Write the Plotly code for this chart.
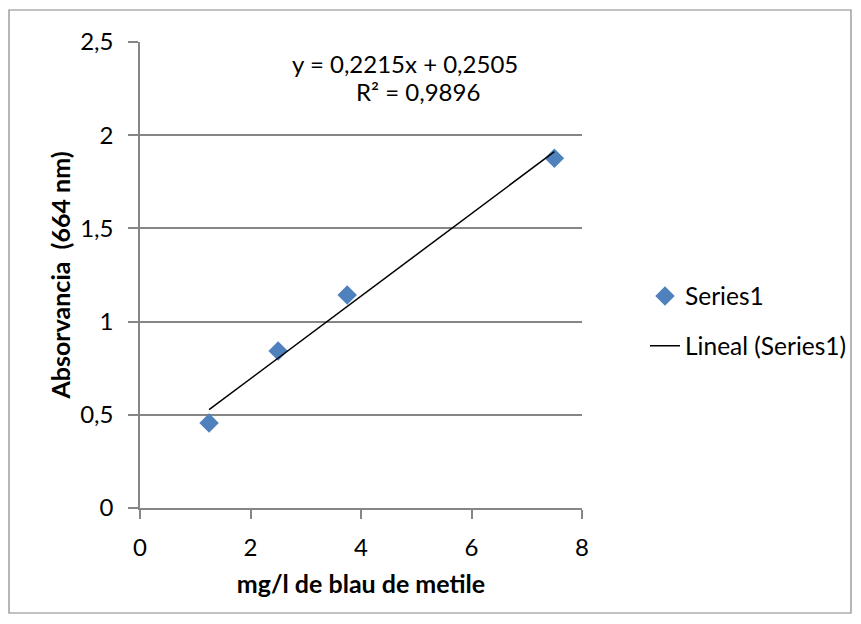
import plotly.graph_objects as go

# Data
conc = [1.25, 2.5, 3.75, 7.5]
absorb = [0.456, 0.842, 1.143, 1.877]
slope = 0.2215
intercept = 0.2505
r2 = 0.9896
x_ticks = [0, 2, 4, 6, 8]
y_ticks = [0, 0.5, 1, 1.5, 2, 2.5]

FONT = "Lato"
GRID = "#868686"

trend_x = [min(conc), max(conc)]
trend_y = [slope * v + intercept for v in trend_x]

fig = go.Figure()
fig.add_trace(go.Scatter(
    x=conc, y=absorb, mode="markers", name="Series1", legendgroup="a",
    marker=dict(symbol="diamond", size=15, color="#4F81BD",
                line=dict(width=0)),
))
fig.add_trace(go.Scatter(
    x=trend_x, y=trend_y, mode="lines", name="Lineal (Series1)", legendgroup="b",
    line=dict(color="black", width=1.5),
))

L, R, T, B = 140, 279, 42, 116
W, H = 861, 624
pw = W - L - R
ph = H - T - B

def px(xp):
    return (xp - L) / pw

def py(yp):
    return (H - B - yp) / ph

fig.update_layout(
    width=W, height=H,
    margin=dict(l=L, r=R, t=T, b=B, autoexpand=False),
    paper_bgcolor="white", plot_bgcolor="white",
    separators=",.",
    font=dict(family=FONT, size=24, color="black"),
    showlegend=True,
    legend=dict(x=px(645), y=py(321), xanchor="left", yanchor="middle",
                font=dict(size=24.5), tracegroupgap=15, bgcolor="rgba(0,0,0,0)"),
    xaxis=dict(range=[0, 8], tickvals=x_ticks, showgrid=False,
               showline=True, linecolor=GRID, linewidth=1.5,
               ticks="outside", ticklen=9, tickcolor=GRID, tickwidth=1.5,
               zeroline=False, fixedrange=True, tickfont=dict(size=24),
               ticklabelstandoff=8,
               title=dict(text="<b>mg/l de blau de metile</b>",
                          font=dict(size=25), standoff=16)),
    yaxis=dict(range=[0, 2.5], tickvals=y_ticks, showgrid=True,
               gridcolor=GRID, gridwidth=1.5,
               showline=True, linecolor=GRID, linewidth=1.5,
               ticks="outside", ticklen=10, tickcolor=GRID, tickwidth=1.5,
               zeroline=False, fixedrange=True, ticklabelstandoff=10,
               tickfont=dict(size=24),
               title=dict(text="<b>Absorvancia  (664 nm)</b>",
                          font=dict(size=25), standoff=2)),
)

fig.add_annotation(x=px(405), y=py(63), xref="paper", yref="paper",
                   xanchor="center", yanchor="middle",
                   text=f"y = {slope:.4f}x + {intercept:.4f}".replace(".", ","),
                   showarrow=False, font=dict(size=24))
fig.add_annotation(x=px(418), y=py(92), xref="paper", yref="paper",
                   xanchor="center", yanchor="middle",
                   text=f"R² = {r2:.4f}".replace(".", ","),
                   showarrow=False, font=dict(size=24))

fig.add_shape(type="rect", xref="paper", yref="paper",
              x0=px(9), x1=px(851), y0=py(613), y1=py(10),
              line=dict(color=GRID, width=1.2), layer="below")

fig.write_html("out.html")
